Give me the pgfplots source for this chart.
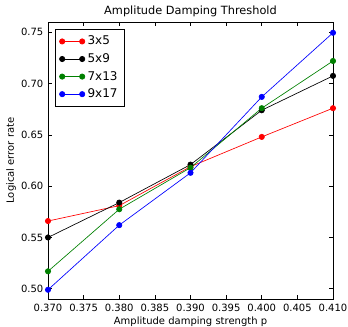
\documentclass[border=0pt]{standalone}
\usepackage{pgfplots}
\pgfplotsset{compat=1.18}
\usepackage{fontspec}
\setmainfont{DejaVu Sans}
\definecolor{mplgreen}{rgb}{0,0.5,0}
\begin{document}
\begin{tikzpicture}
\begin{axis}[
  at={(0pt,0pt)}, anchor=south west,
  scale only axis, width=213.75pt, height=207.75pt,
  xmin=0.370, xmax=0.410, ymin=0.49, ymax=0.76,
  xtick={0.370,0.375,...,0.4101}, ytick={0.50,0.55,...,0.751},
  xticklabel style={/pgf/number format/.cd,fixed,fixed zerofill,precision=3},
  yticklabel style={/pgf/number format/.cd,fixed,fixed zerofill,precision=2},
  /pgf/number format/assume math mode=true,
  tick align=inside, major tick length=3pt,
  tick style={black, line width=0.4pt},
  font=\fontsize{7.5}{9}\selectfont,
  title={Amplitude Damping Threshold},
  title style={font=\fontsize{8.5}{10}\selectfont, yshift=-5.5pt},
  xlabel={Amplitude damping strength p},
  ylabel={Logical error rate},
  xlabel style={yshift=2.5pt},
  ylabel style={yshift=-3pt},
  axis line style={line width=0.6pt},
  every axis plot/.append style={line width=0.5pt, mark=*, mark size=2pt, mark options={draw=black, line width=0.4pt}},
  legend style={draw=black, line width=0.6pt, font=\fontsize{9}{11}\selectfont, row sep=1pt, inner sep=3pt, at={(0.025,0.975)}, anchor=north west},
  legend cell align=left,
  legend image code/.code={\draw[#1] plot coordinates {(0pt,0pt) (15pt,0pt)};},
]
\addplot[red, mark options={fill=red}] coordinates {(0.370,0.566) (0.380,0.581) (0.390,0.619) (0.400,0.648) (0.410,0.676)};
\addlegendentry{3x5}
\addplot[black, mark options={fill=black}] coordinates {(0.370,0.550) (0.380,0.584) (0.390,0.621) (0.400,0.674) (0.410,0.7075)};
\addlegendentry{5x9}
\addplot[mplgreen, mark options={fill=mplgreen}] coordinates {(0.370,0.517) (0.380,0.5775) (0.390,0.618) (0.400,0.676) (0.410,0.722)};
\addlegendentry{7x13}
\addplot[blue, mark options={fill=blue}] coordinates {(0.370,0.499) (0.380,0.562) (0.390,0.613) (0.400,0.687) (0.410,0.7495)};
\addlegendentry{9x17}
\end{axis}
\pgfresetboundingbox
\path[use as bounding box] (-36pt,-20.25pt) rectangle (225pt,224.25pt);
\end{tikzpicture}
\end{document}
